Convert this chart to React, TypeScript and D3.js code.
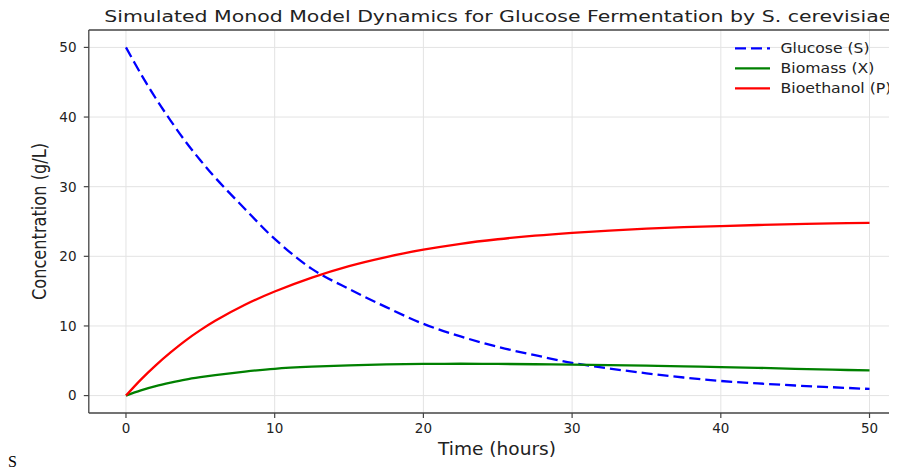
import React from "react";
import * as d3 from "d3";

const timeH = [0, 1, 2, 3, 4, 5, 6, 8, 10, 12.5, 15, 17.5, 20, 22.5, 25, 27.5, 30, 32.5, 35, 37.5, 40, 42.5, 45, 47.5, 50];
const glucoseS = [50, 46.2, 42.7, 39.5, 36.5, 33.8, 31.3, 26.8, 22.5, 18.2, 15.3, 12.7, 10.3, 8.5, 7.0, 5.8, 4.7, 3.9, 3.2, 2.6, 2.1, 1.75, 1.45, 1.2, 0.95];
const biomassX = [0, 0.75, 1.35, 1.85, 2.3, 2.65, 2.95, 3.45, 3.85, 4.15, 4.35, 4.48, 4.55, 4.57, 4.55, 4.5, 4.45, 4.37, 4.3, 4.2, 4.1, 3.98, 3.85, 3.72, 3.62];
const ethanolP = [0, 2.3, 4.35, 6.2, 7.9, 9.4, 10.75, 13.05, 14.95, 16.95, 18.6, 19.9, 20.95, 21.8, 22.45, 22.97, 23.38, 23.7, 23.97, 24.18, 24.35, 24.5, 24.62, 24.72, 24.8];
const xTicks = [0, 10, 20, 30, 40, 50];
const yTicks = [0, 10, 20, 30, 40, 50];
const seriesNames = ["Glucose (S)", "Biomass (X)", "Bioethanol (P)"];
const seriesColors = ["#0000ff", "#008000", "#ff0000"];
const titleText = "Simulated Monod Model Dynamics for Glucose Fermentation by S. cerevisiae";

const W = 897;
const H = 453;
const left = 88.8, right = 906.7, top = 30, bottom = 413;
const font = "'DejaVu Sans', sans-serif";

export default function App() {
  const x = d3.scaleLinear().domain([-2.5, 52.5]).range([left, right]);
  const y = d3.scaleLinear().domain([-2.5, 52.5]).range([bottom, top]);
  const line = d3
    .line<number>()
    .x((_, i) => x(timeH[i]))
    .y((d) => y(d))
    .curve(d3.curveCatmullRom.alpha(0.5));
  const series = [glucoseS, biomassX, ethanolP];
  const spine = "#444";
  const legendLen = [89, 94, 111];
  return (
    <>
      <svg
        width={W}
        height={H}
        style={{ display: "block", margin: "-8px 0 0 -8px", overflow: "visible" }}
      >
        <rect x={0} y={0} width={W} height={H} fill="#fff" />
        <defs>
          <clipPath id="plot">
            <rect x={left} y={top} width={right - left} height={bottom - top} />
          </clipPath>
        </defs>
        {xTicks.map((t) => (
          <line key={"gx" + t} x1={x(t)} x2={x(t)} y1={top} y2={bottom} stroke="#e3e3e3" strokeWidth={1} />
        ))}
        {yTicks.map((t) => (
          <line key={"gy" + t} x1={left} x2={right} y1={y(t)} y2={y(t)} stroke="#e3e3e3" strokeWidth={1} />
        ))}
        <g clipPath="url(#plot)">
          {series.map((s, i) => (
            <path
              key={i}
              d={line(s) || ""}
              fill="none"
              stroke={seriesColors[i]}
              strokeWidth={2.3}
              strokeDasharray={i === 0 ? "11 5" : undefined}
            />
          ))}
        </g>
        <line x1={left} x2={left} y1={top} y2={bottom} stroke={spine} strokeWidth={1.3} />
        <line x1={right} x2={right} y1={top} y2={bottom} stroke={spine} strokeWidth={1.3} />
        <line x1={left} x2={right} y1={top} y2={top} stroke={spine} strokeWidth={1.3} />
        <line x1={left} x2={right} y1={bottom} y2={bottom} stroke={spine} strokeWidth={1.3} />
        {xTicks.map((t) => (
          <g key={"xt" + t}>
            <line x1={x(t)} x2={x(t)} y1={bottom} y2={bottom + 5} stroke={spine} strokeWidth={1.2} />
            <text x={x(t)} y={433} textAnchor="middle" fontFamily={font} fontSize={13.5} fill="#222">
              {t}
            </text>
          </g>
        ))}
        {yTicks.map((t) => (
          <g key={"yt" + t}>
            <line x1={left - 5} x2={left} y1={y(t)} y2={y(t)} stroke={spine} strokeWidth={1.2} />
            <text x={76.5} y={y(t) + 4.9} textAnchor="end" fontFamily={font} fontSize={13.5} fill="#222">
              {t}
            </text>
          </g>
        ))}
        <text
          x={(left + right) / 2}
          y={22}
          textAnchor="middle"
          fontFamily={font}
          fontSize={16.5}
          fill="#222"
          textLength={787}
          lengthAdjust="spacingAndGlyphs"
        >
          {titleText}
        </text>
        <text
          x={497}
          y={455}
          textAnchor="middle"
          fontFamily={font}
          fontSize={17.5}
          fill="#222"
          textLength={118}
          lengthAdjust="spacingAndGlyphs"
        >
          Time (hours)
        </text>
        <text
          transform={`translate(45.5, ${(top + bottom) / 2}) rotate(-90)`}
          textAnchor="middle"
          fontFamily={font}
          fontSize={19}
          fill="#222"
          textLength={157}
          lengthAdjust="spacingAndGlyphs"
        >
          Concentration (g/L)
        </text>
        {seriesNames.map((n, i) => (
          <g key={n}>
            <line
              x1={735}
              x2={770}
              y1={48.3 + i * 20}
              y2={48.3 + i * 20}
              stroke={seriesColors[i]}
              strokeWidth={2.3}
              strokeDasharray={i === 0 ? "11 5" : undefined}
            />
            <text
              x={780.5}
              y={53.3 + i * 20}
              fontFamily={font}
              fontSize={14.8}
              fill="#222"
              textLength={legendLen[i]}
              lengthAdjust="spacingAndGlyphs"
            >
              {n}
            </text>
          </g>
        ))}
      </svg>
      <div
        style={{
          fontFamily: "'Liberation Serif', 'DejaVu Serif', 'Times New Roman', serif",
          fontSize: 16,
          lineHeight: "18px",
          color: "#000",
        }}
      >
        S
      </div>
    </>
  );
}
